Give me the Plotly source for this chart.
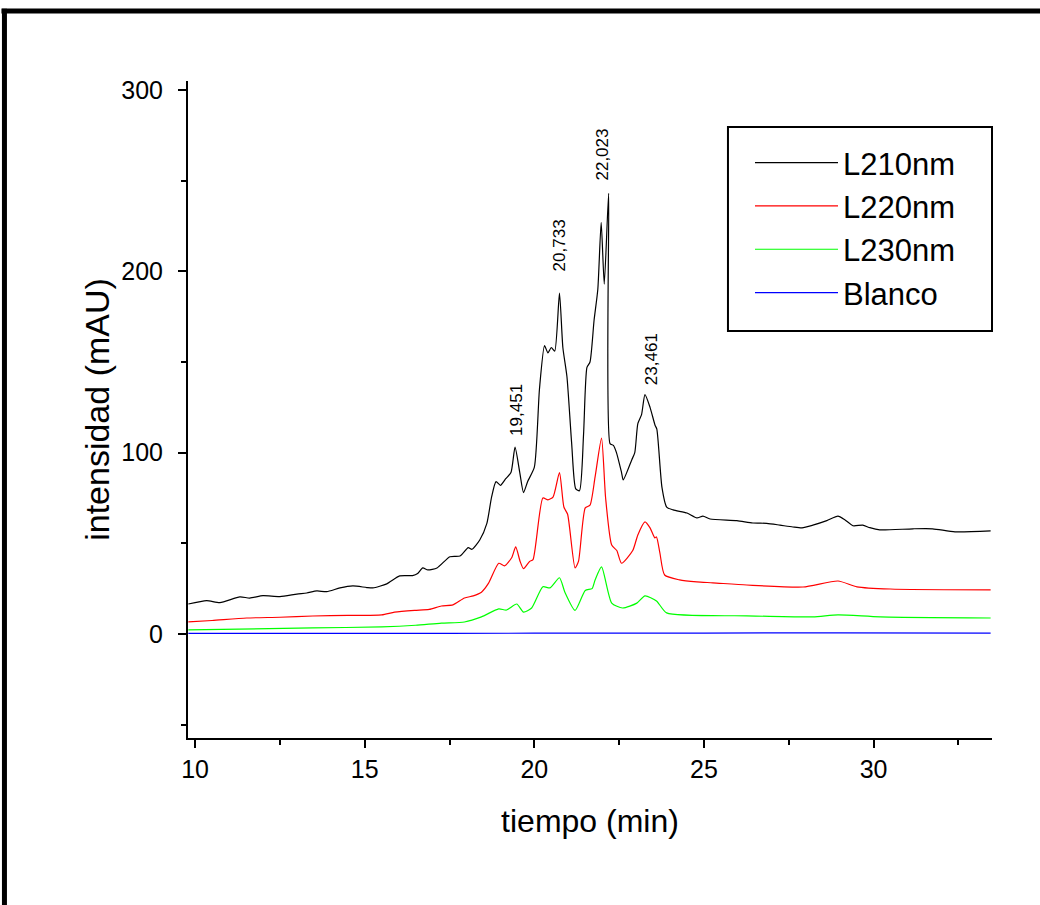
import plotly.graph_objects as go

# ---------------- data ----------------
t_210 = [9.80, 10.34, 10.73, 11.32, 11.61, 12.00, 12.50, 13.00, 13.29, 13.59,
         13.88, 14.27, 14.65, 15.06, 15.24, 15.65, 16.03, 16.41, 16.56, 16.71,
         16.86, 17.13, 17.51, 17.81, 18.05, 18.16, 18.39, 18.60, 18.74, 18.87,
         19.00, 19.15, 19.31, 19.43, 19.57, 19.68, 19.80, 20.00, 20.15, 20.30,
         20.40, 20.50, 20.60, 20.74, 20.84, 20.96, 21.10, 21.22, 21.33, 21.45,
         21.55, 21.64, 21.76, 21.87, 21.97, 22.06, 22.19, 22.23, 22.33, 22.42,
         22.57, 22.62, 22.87, 22.96, 23.05, 23.16, 23.26, 23.41, 23.56, 23.61,
         23.76, 23.90, 24.09, 24.50, 24.79, 24.97, 25.18, 25.97, 26.44, 26.85,
         27.24, 27.62, 27.89, 28.21, 28.62, 28.95, 29.15, 29.39, 29.68, 29.89,
         30.18, 31.16, 31.74, 32.40, 33.45]
v_210 = [16.5, 18.4, 17.3, 20.4, 19.8, 21.1, 20.6, 22.0, 22.6, 23.7,
         23.3, 25.4, 26.5, 25.6, 25.4, 27.6, 32.0, 32.2, 33.4, 36.4,
         35.3, 36.4, 42.6, 43.0, 47.6, 46.7, 51.8, 61.0, 75.6, 84.0,
         82.0, 85.5, 89.0, 103.0, 89.0, 78.0, 84.0, 92.0, 135.0, 159.0,
         155.0, 158.0, 156.0, 188.0, 158.0, 142.0, 105.0, 80.0, 79.0, 110.0,
         147.0, 150.0, 173.0, 190.0, 227.0, 193.0, 243.0, 105.0, 104.0, 100.0,
         89.0, 85.0, 96.0, 100.0, 116.0, 121.0, 132.0, 125.0, 115.0, 113.0,
         81.0, 70.0, 68.4, 66.7, 64.0, 65.0, 63.4, 62.5, 61.2, 61.0,
         60.0, 59.0, 58.5, 60.0, 62.5, 65.0, 63.0, 59.7, 60.0, 58.6,
         57.4, 58.0, 58.0, 56.3, 56.8]

t_220 = [9.80, 10.50, 11.52, 12.50, 13.47, 14.50, 15.50, 15.88, 16.47, 16.90,
         17.26, 17.60, 17.94, 18.20, 18.44, 18.65, 18.95, 19.12, 19.33, 19.45,
         19.58, 19.68, 19.86, 19.96, 20.25, 20.40, 20.55, 20.74, 20.87, 20.98,
         21.20, 21.30, 21.50, 21.64, 21.79, 21.98, 22.10, 22.28, 22.43, 22.57,
         22.90, 23.05, 23.26, 23.41, 23.55, 23.60, 23.70, 23.84, 24.28, 24.79,
         25.26, 26.26, 27.92, 28.95, 29.51, 30.49, 33.45]
v_220 = [6.6, 7.4, 8.8, 9.2, 9.9, 10.2, 10.5, 12.0, 13.0, 13.5,
         15.4, 16.0, 19.8, 21.0, 23.0, 28.0, 39.0, 37.5, 42.0, 48.0,
         40.0, 36.0, 40.0, 41.0, 75.0, 74.0, 75.5, 89.0, 70.0, 66.0,
         36.4, 40.0, 69.5, 71.0, 86.6, 108.0, 75.0, 49.0, 46.0, 39.0,
         46.0, 54.6, 61.8, 58.5, 53.0, 53.5, 44.7, 32.5, 29.8, 28.7,
         28.2, 27.0, 25.9, 29.2, 26.0, 24.8, 24.3]

t_230 = [9.80, 13.47, 15.50, 16.50, 17.26, 17.94, 18.44, 18.95, 19.18, 19.48,
         19.68, 19.92, 20.25, 20.46, 20.74, 20.90, 21.20, 21.50, 21.70, 21.79,
         21.98, 22.28, 22.60, 23.02, 23.26, 23.60, 23.90, 26.26, 28.21, 28.95,
         30.19, 33.45]
v_230 = [2.2, 3.3, 3.9, 4.8, 6.0, 6.6, 9.4, 13.8, 13.2, 16.5,
         12.0, 14.3, 26.0, 25.4, 31.0, 23.0, 13.0, 24.0, 25.0, 29.8,
         37.0, 17.0, 14.3, 17.0, 21.0, 18.2, 11.6, 10.0, 9.4, 10.5,
         9.4, 8.8]

t_blank = [9.80, 15.00, 20.00, 25.00, 29.00, 33.45]
v_blank = [0.3, 0.3, 0.4, 0.5, 0.6, 0.4]

series_names = ["L210nm", "L220nm", "L230nm", "Blanco"]
series_colors = ["#000000", "#ff0000", "#00ff00", "#0000ff"]

peak_labels = ["19,451", "20,733", "22,023", "23,461"]
label_base = [108, 199, 249, 136]   # intensity where each rotated label starts

x_range = [9.79, 33.49]
y_range = [-57.4, 305]

# ---------------- figure ----------------
fig = go.Figure()
for name, t, v, c in zip(series_names,
                         [t_210, t_220, t_230, t_blank],
                         [v_210, v_220, v_230, v_blank],
                         series_colors):
    fig.add_trace(go.Scatter(x=t, y=v, mode="lines", name=name,
                             line=dict(color=c, width=1.2, shape="spline",
                                       smoothing=0.6)))

for lab, yb in zip(peak_labels, label_base):
    fig.add_annotation(x=float(lab.replace(",", ".")), y=yb, text=lab,
                       textangle=-90, showarrow=False, xanchor="center",
                       yanchor="bottom", font=dict(size=17, color="black"))

FONT = "Arial, 'Liberation Sans', sans-serif"
fig.update_layout(
    width=1040, height=905,
    margin=dict(l=188, r=48, t=81, b=167),
    paper_bgcolor="white", plot_bgcolor="white",
    font=dict(family=FONT, color="black"),
    showlegend=True,
    legend=dict(x=0.699, y=0.9163, xanchor="left", yanchor="top",
                bgcolor="rgba(0,0,0,0)", borderwidth=0,
                font=dict(size=31, family=FONT), itemwidth=83,
                tracegroupgap=0),
    shapes=[
        # legend frame
        dict(type="rect", xref="paper", yref="paper", x0=0.6716, x1=1.0,
             y0=0.6195, y1=0.930, line=dict(color="black", width=2),
             fillcolor="rgba(0,0,0,0)", layer="above"),
        # outer page frame (top and left edges)
        dict(type="line", xref="paper", yref="paper", x0=-0.232, x1=1.08,
             y0=1.1065, y1=1.1065, line=dict(color="black", width=5)),
        dict(type="line", xref="paper", yref="paper", x0=-0.2283, x1=-0.2283,
             y0=-0.28, y1=1.110, line=dict(color="black", width=5)),
    ],
)

axis_common = dict(showline=True, linecolor="black", linewidth=2,
                   ticks="outside", ticklen=8, tickwidth=2, tickcolor="black",
                   showgrid=False, zeroline=False, mirror=False,
                   tickfont=dict(size=25, family=FONT, color="black"))

fig.update_xaxes(range=x_range, tick0=10, dtick=5,
                 minor=dict(ticks="outside", ticklen=5, tickwidth=2,
                            tickcolor="black", tick0=10, dtick=2.5),
                 title=dict(text="tiempo (min)", standoff=28,
                            font=dict(size=32, family=FONT, color="black")),
                 **axis_common)
fig.update_yaxes(range=y_range, tick0=0, dtick=100,
                 minor=dict(ticks="outside", ticklen=5, tickwidth=2,
                            tickcolor="black", tick0=0, dtick=50),
                 ticklabelstandoff=10,
                 title=dict(text="intensidad (mAU)", standoff=1,
                            font=dict(size=34, family=FONT, color="black")),
                 **axis_common)

fig.write_html("out.html")
